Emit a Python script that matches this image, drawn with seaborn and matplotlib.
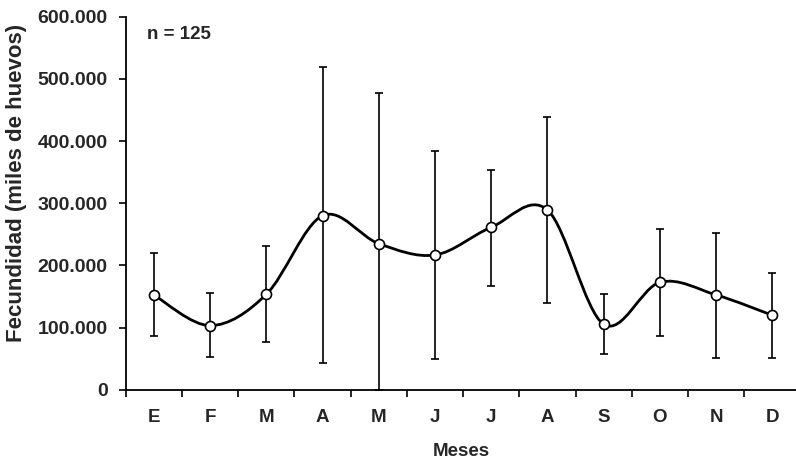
import numpy as np
import pandas as pd
import matplotlib
matplotlib.use("Agg")
import matplotlib.pyplot as plt
from matplotlib.path import Path
from matplotlib.patches import PathPatch
from matplotlib.ticker import FixedLocator
import seaborn as sns

# ---- data ----
months = ["E", "F", "M", "A", "M", "J", "J", "A", "S", "O", "N", "D"]
mean_vals = [152700, 103400, 153700, 280100, 235100, 216900,
             261400, 289200, 105500, 173000, 152700, 120000]
upper_vals = [220700, 155300, 231400, 519600, 477800, 384100,
              353500, 439200, 153700, 259200, 252300, 188000]
lower_vals = [86800, 53600, 77700, 42900, 0, 49800,
              167700, 139300, 57800, 86800, 52000, 52000]
y_ticks = [0, 100000, 200000, 300000, 400000, 500000, 600000]
y_tick_labels = ["0", "100.000", "200.000", "300.000", "400.000", "500.000", "600.000"]
annotation = "n = 125"

df = pd.DataFrame({"pos": np.arange(len(months)), "mean": mean_vals,
                   "upper": upper_vals, "lower": lower_vals})

sns.set_theme(style="white")
plt.rcParams["font.family"] = ["Liberation Sans", "DejaVu Sans"]
plt.rcParams["font.weight"] = "bold"

fig = plt.figure(figsize=(7.96, 4.62), dpi=100)
ax = fig.add_axes([0.158, 0.156, 0.842, 0.808])

# error bars
ax.errorbar(df["pos"], df["mean"],
            yerr=[df["mean"] - df["lower"], df["upper"] - df["mean"]],
            fmt="none", ecolor="black", elinewidth=1.2, capsize=2.6,
            capthick=1.2, zorder=2)

# smoothed line (Catmull-Rom as cubic Bezier, in data coordinates)
x = df["pos"].to_numpy(dtype=float)
y = df["mean"].to_numpy(dtype=float)
verts = [(x[0], y[0])]
codes = [Path.MOVETO]
n = len(x)
for i in range(n - 1):
    p0 = (x[max(i - 1, 0)], y[max(i - 1, 0)])
    p1 = (x[i], y[i])
    p2 = (x[i + 1], y[i + 1])
    p3 = (x[min(i + 2, n - 1)], y[min(i + 2, n - 1)])
    c1 = (p1[0] + (p2[0] - p0[0]) / 6, p1[1] + (p2[1] - p0[1]) / 6)
    c2 = (p2[0] - (p3[0] - p1[0]) / 6, p2[1] - (p3[1] - p1[1]) / 6)
    verts += [c1, c2, p2]
    codes += [Path.CURVE4] * 3
ax.add_patch(PathPatch(Path(verts, codes), facecolor="none",
                       edgecolor="black", linewidth=2.0, zorder=3))

# markers
sns.scatterplot(data=df, x="pos", y="mean", ax=ax, s=52, color="white",
                edgecolor="black", linewidth=1.2, zorder=4, legend=False)

ax.set_xlim(-0.5, 11.42)
ax.set_ylim(0, 600000)

ax.set_xticks(np.arange(len(months)))
ax.set_xticklabels(months, fontsize=13.5, fontweight="bold")
ax.xaxis.set_minor_locator(FixedLocator(np.arange(-0.5, len(months), 1.0)))
ax.tick_params(axis="x", which="major", length=0, pad=14)
ax.tick_params(axis="x", which="minor", length=5, width=1.2,
               direction="out", color="black", bottom=True)

ax.set_yticks(y_ticks)
ax.set_yticklabels(y_tick_labels, fontsize=14, fontweight="bold")
ax.tick_params(axis="y", which="major", length=5, width=1.2,
               direction="out", color="black", left=True, pad=8)

for side in ["top", "right"]:
    ax.spines[side].set_visible(False)
for side in ["left", "bottom"]:
    ax.spines[side].set_color("black")
    ax.spines[side].set_linewidth(1.3)

ax.set_xlabel("Meses", fontsize=13.5, fontweight="bold")
ax.set_ylabel("Fecundidad (miles de huevos)", fontsize=16,
              fontweight="bold")
ax.xaxis.set_label_coords(0.5, -0.142)
ax.yaxis.set_label_coords(-0.148, 0.555)
ax.grid(False)
ax.set_facecolor("white")

ax.text(0.031, 0.952, annotation, transform=ax.transAxes, fontsize=13.5,
        fontweight="bold", va="center", ha="left")

fig.savefig("out.png", dpi=100, facecolor="white")
